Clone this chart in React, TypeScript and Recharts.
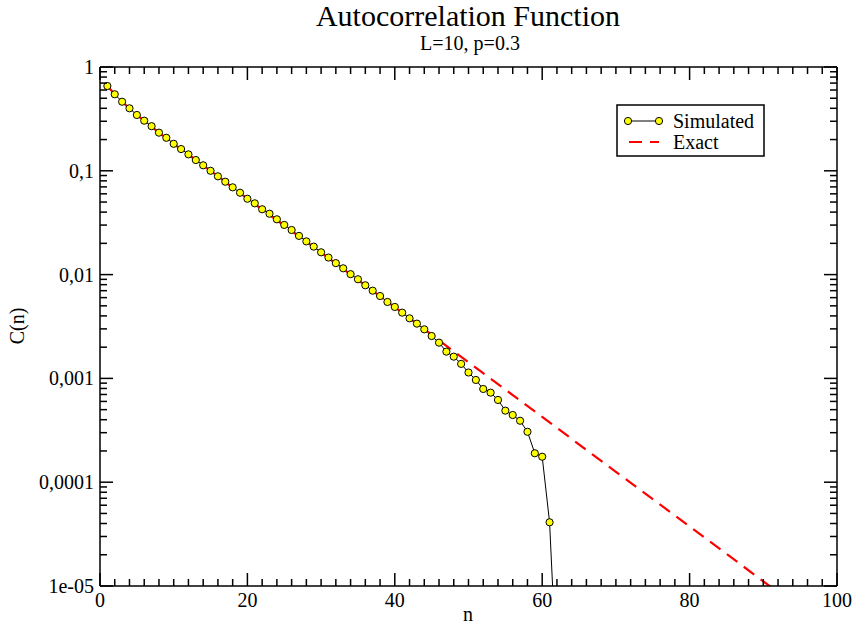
import React from "react";
import { LineChart, Line, XAxis, YAxis } from "recharts";

const FONT = "'Liberation Serif', 'DejaVu Serif', serif";

// Simulated autocorrelation, n = 1..62 (last one drops below the axis)
const SIM_N = [
  1, 2, 3, 4, 5, 6, 7, 8, 9, 10, 11, 12, 13, 14, 15, 16, 17, 18, 19, 20,
  21, 22, 23, 24, 25, 26, 27, 28, 29, 30, 31, 32, 33, 34, 35, 36, 37, 38, 39, 40,
  41, 42, 43, 44, 45, 46, 47, 48, 49, 50, 51, 52, 53, 54, 55, 56, 57, 58, 59, 60,
  61, 62,
];
const SIM_C = [
  0.656, 0.546, 0.463, 0.4, 0.345, 0.304, 0.269, 0.233, 0.208, 0.182,
  0.162, 0.144, 0.127, 0.113, 0.1, 0.0885, 0.0785, 0.0693, 0.0615, 0.0538,
  0.0486, 0.0426, 0.0386, 0.0341, 0.0301, 0.0269, 0.0236, 0.0209, 0.0186, 0.0164,
  0.0146, 0.0129, 0.0115, 0.0101, 0.00902, 0.00789, 0.007, 0.00622, 0.00545, 0.00488,
  0.0043, 0.00379, 0.00337, 0.00297, 0.00256, 0.00221, 0.00181, 0.00162, 0.00138, 0.00114,
  0.000966, 0.000791, 0.000729, 0.00062, 0.000489, 0.000444, 0.000391, 0.000306, 0.00019, 0.000176,
  0.0000411, 0.0000013,
];

// Exact curve (straight on the log axis, runs out the bottom near n=91)
const EXACT_N = [1, 2, 3, 4, 5, 6, 8, 10, 15, 20, 30, 40, 50, 60, 70, 80, 90, 100];
const EXACT_C = [
  0.656, 0.546, 0.463, 0.4, 0.345, 0.304, 0.233, 0.182, 0.1, 0.0538,
  0.0163, 0.00485, 0.00143, 0.000425, 0.000126, 0.0000375, 0.0000111, 0.0000033,
];

const X_MAJOR = [0, 20, 40, 60, 80, 100];
const X_MINOR_STEP = 2;
const Y_MAJOR = [1, 0.1, 0.01, 0.001, 0.0001, 0.00001];
const Y_LABELS = ["1", "0,1", "0,01", "0,001", "0,0001", "1e-05"];
const Y_MINOR_MULT = [2, 3, 4, 5, 6, 7, 8, 9];

const simData = SIM_N.map((n, i) => ({ n, c: SIM_C[i] }));
const exactData = EXACT_N.map((n, i) => ({ n, c: EXACT_C[i] }));

const xTicks: number[] = [];
for (let v = 0; v <= 100; v += X_MINOR_STEP) xTicks.push(v);
const yTicks: number[] = [...Y_MAJOR];
for (let i = 1; i < Y_MAJOR.length; i++) {
  for (const m of Y_MINOR_MULT) yTicks.push(m * Y_MAJOR[i]);
}

// plot frame (px)
const P = { left: 100, right: 837, top: 67, bottom: 586 };
const MAJ = 13;
const MIN = 7;

function XTick(props: any) {
  const { x, payload, side } = props;
  const v = payload.value;
  const major = X_MAJOR.includes(v);
  const len = major ? MAJ : MIN;
  if (side === "top") {
    return <line x1={x} x2={x} y1={P.top} y2={P.top + len} stroke="#000" strokeWidth={1.5} />;
  }
  return (
    <g>
      <line x1={x} x2={x} y1={P.bottom} y2={P.bottom - len} stroke="#000" strokeWidth={1.5} />
      {major && (
        <text x={x} y={P.bottom + 21} textAnchor="middle" fontSize={20} fontFamily={FONT} fill="#000">
          {v}
        </text>
      )}
    </g>
  );
}

function YTick(props: any) {
  const { y, payload, side } = props;
  const v = payload.value;
  const idx = Y_MAJOR.indexOf(v);
  const len = idx >= 0 ? MAJ : MIN;
  if (side === "right") {
    return <line x1={P.right} x2={P.right - len} y1={y} y2={y} stroke="#000" strokeWidth={1.5} />;
  }
  return (
    <g>
      <line x1={P.left} x2={P.left + len} y1={y} y2={y} stroke="#000" strokeWidth={1.5} />
      {idx >= 0 && (
        <text x={P.left - 6} y={y + 7} textAnchor="end" fontSize={20} fontFamily={FONT} fill="#000">
          {Y_LABELS[idx]}
        </text>
      )}
    </g>
  );
}

const axisLine = { stroke: "#000", strokeWidth: 1.5 };

export default function App() {
  return (
    <div style={{ position: "absolute", left: 0, top: 0, width: 858, height: 631, background: "#fff" }}>
      <LineChart width={858} height={631} margin={{ top: 0, right: 0, bottom: 0, left: 0 }}>
        <XAxis
          xAxisId="b" type="number" dataKey="n" domain={[0, 100]} allowDataOverflow
          ticks={xTicks} interval={0} height={45} tickSize={0} tickLine={false}
          axisLine={axisLine} tick={<XTick side="bottom" />}
        />
        <XAxis
          xAxisId="t" orientation="top" type="number" dataKey="n" domain={[0, 100]} allowDataOverflow
          ticks={xTicks} interval={0} height={67} tickSize={0} tickLine={false}
          axisLine={axisLine} tick={<XTick side="top" />}
        />
        <YAxis
          yAxisId="l" type="number" scale="log" domain={[0.00001, 1]} allowDataOverflow
          ticks={yTicks} interval={0} width={100} tickSize={0} tickLine={false}
          axisLine={axisLine} tick={<YTick side="left" />}
        />
        <YAxis
          yAxisId="r" orientation="right" type="number" scale="log" domain={[0.00001, 1]} allowDataOverflow
          ticks={yTicks} interval={0} width={21} tickSize={0} tickLine={false}
          axisLine={axisLine} tick={<YTick side="right" />}
        />
        <Line
          xAxisId="b" yAxisId="l" data={simData} dataKey="c" type="linear"
          stroke="#000" strokeWidth={1}
          dot={{ r: 3.6, fill: "#ffff00", stroke: "#000", strokeWidth: 1 }}
          isAnimationActive={false}
        />
        <Line
          xAxisId="b" yAxisId="l" data={exactData} dataKey="c" type="linear"
          stroke="#ff0000" strokeWidth={2.2} strokeDasharray="13 8" dot={false}
          isAnimationActive={false}
        />
      </LineChart>

      <svg
        width={858} height={631}
        style={{ position: "absolute", left: 0, top: 0, pointerEvents: "none" }}
        fontFamily={FONT}
      >
        <text x={468} y={26} textAnchor="middle" fontSize={30}>Autocorrelation Function</text>
        <text x={470} y={50} textAnchor="middle" fontSize={20}>L=10, p=0.3</text>
        <text x={468} y={621} textAnchor="middle" fontSize={20}>n</text>
        <text x={24} y={326} textAnchor="middle" fontSize={20} transform="rotate(-90 24 326)">C(n)</text>

        <rect x={617} y={105} width={147} height={51} fill="#fff" stroke="#000" strokeWidth={1.5} />
        <line x1={628} x2={659} y1={121} y2={121} stroke="#000" strokeWidth={1} />
        <circle cx={628} cy={121} r={3.6} fill="#ffff00" stroke="#000" />
        <circle cx={659} cy={121} r={3.6} fill="#ffff00" stroke="#000" />
        <text x={673} y={128} fontSize={20}>Simulated</text>
        <line x1={629} x2={659} y1={142} y2={142} stroke="#ff0000" strokeWidth={2.2} strokeDasharray="13 8" />
        <text x={673} y={149} fontSize={20}>Exact</text>
      </svg>
    </div>
  );
}
